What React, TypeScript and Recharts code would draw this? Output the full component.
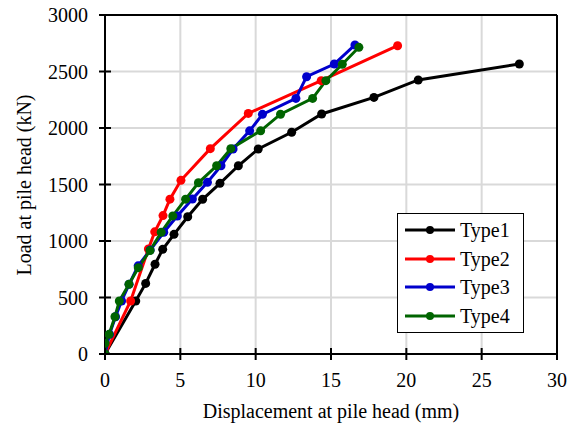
import React from 'react';
import { LineChart, Line, XAxis, YAxis, CartesianGrid, ReferenceLine } from 'recharts';

const xTicks = [0, 5, 10, 15, 20, 25, 30];
const yTicks = [0, 500, 1000, 1500, 2000, 2500, 3000];

const type1X = [0, 2.04, 2.7, 3.32, 3.83, 4.58, 5.49, 6.48, 7.63, 8.85, 10.17, 12.39, 14.38, 17.85, 20.79, 27.5];
const type1Y = [0, 469, 625, 794, 926, 1059, 1215, 1369, 1510, 1666, 1814, 1962, 2124, 2271, 2425, 2566];

const type2X = [0, 1.7, 2.88, 3.3, 3.85, 4.31, 5.04, 6.99, 9.51, 14.35, 19.42];
const type2Y = [0, 469, 929, 1081, 1225, 1370, 1537, 1817, 2129, 2419, 2728];

const type3X = [0, 0.3, 0.7, 1.1, 1.6, 2.2, 3.0, 3.9, 4.8, 5.8, 6.8, 7.7, 8.5, 9.6, 10.45, 12.67, 13.38, 15.22, 16.59];
const type3Y = [0, 174, 330, 469, 617, 780, 920, 1077, 1221, 1372, 1519, 1666, 1814, 1975, 2121, 2262, 2454, 2566, 2735];

const type4X = [0, 0, 0.27, 0.66, 0.95, 1.59, 2.21, 2.99, 3.73, 4.5, 5.35, 6.2, 7.41, 8.35, 10.33, 11.65, 13.78, 14.66, 15.75, 16.85];
const type4Y = [0, 95, 174, 330, 469, 617, 764, 916, 1077, 1222, 1370, 1515, 1666, 1817, 1975, 2122, 2262, 2419, 2564, 2714];

const seriesNames = ['Type1', 'Type2', 'Type3', 'Type4'];
const seriesColors = ['#000000', '#ff0000', '#0000cc', '#006400'];

const zip = (xs: number[], ys: number[]) => xs.map((x, i) => ({ x, y: ys[i] }));
const seriesData = [zip(type1X, type1Y), zip(type2X, type2Y), zip(type3X, type3Y), zip(type4X, type4Y)];

const FONT = '"Liberation Serif", "Times New Roman", serif';

const XTick = (props: any) => {
  const { x, y, payload } = props;
  return (
    <g>
      <line x1={x} x2={x} y1={y - 6} y2={y + 6} stroke="#000" strokeWidth={2} />
      <text x={x} y={y + 33} textAnchor="middle" fontFamily={FONT} fontSize={20} fill="#000">
        {payload.value}
      </text>
    </g>
  );
};

const YTick = (props: any) => {
  const { x, y, payload } = props;
  return (
    <g>
      <line x1={x - 6} x2={x + 6} y1={y} y2={y} stroke="#000" strokeWidth={2} />
      <text x={x - 17} y={y + 7} textAnchor="end" fontFamily={FONT} fontSize={20} fill="#000">
        {payload.value}
      </text>
    </g>
  );
};

const LegendBox = () => (
  <div
    style={{
      position: 'absolute',
      left: 397,
      top: 213,
      border: '1.5px solid #000',
      background: '#fff',
      width: 127,
      padding: '2px 0 2px 0',
      boxSizing: 'border-box',
      fontFamily: FONT,
    }}
  >
    {seriesNames.map((n, i) => (
      <div key={n} style={{ display: 'flex', alignItems: 'center', height: 28.5 }}>
        <svg width={60} height={20} style={{ display: 'block' }}>
          <line x1={7} x2={57} y1={10} y2={10} stroke={seriesColors[i]} strokeWidth={3} />
          <circle cx={32} cy={10} r={4} fill={seriesColors[i]} />
        </svg>
        <span style={{ fontSize: 20, color: '#000', marginLeft: 2, lineHeight: '20px' }}>{n}</span>
      </div>
    ))}
  </div>
);

export default function App() {
  return (
    <div style={{ position: 'absolute', left: 0, top: 0, width: 571, height: 430, background: '#fff' }}>
      <LineChart width={571} height={430} margin={{ top: 15, right: 14, bottom: 0, left: 0 }}>
        <CartesianGrid stroke="#d9d9d9" strokeWidth={2} />
        <XAxis
          type="number"
          dataKey="x"
          domain={[0, 30]}
          ticks={xTicks}
          interval={0}
          height={76}
          tickLine={false}
          tickSize={0}
          tickMargin={0}
          axisLine={{ stroke: '#000', strokeWidth: 2 }}
          tick={<XTick />}
          allowDataOverflow
          label={() => (
            <text x={331} y={418} textAnchor="middle" fontFamily={FONT} fontSize={20} fill="#000">
              Displacement at pile head (mm)
            </text>
          )}
        />
        <YAxis
          type="number"
          dataKey="y"
          domain={[0, 3000]}
          ticks={yTicks}
          interval={0}
          width={105}
          tickLine={false}
          tickSize={0}
          tickMargin={0}
          axisLine={{ stroke: '#000', strokeWidth: 2 }}
          tick={<YTick />}
          allowDataOverflow
          label={() => (
            <text
              x={24}
              y={185}
              transform="rotate(-90 24 185)"
              textAnchor="middle"
              dominantBaseline="central"
              fontFamily={FONT}
              fontSize={20}
              fill="#000"
            >
              Load at pile head (kN)
            </text>
          )}
        />
        <ReferenceLine y={3000} stroke="#000" strokeWidth={2} ifOverflow="visible" />
        <ReferenceLine x={30} stroke="#000" strokeWidth={2} ifOverflow="visible" />
        {seriesData.map((d, i) => (
          <Line
            key={seriesNames[i]}
            data={d}
            dataKey="y"
            name={seriesNames[i]}
            type="linear"
            stroke={seriesColors[i]}
            strokeWidth={3}
            dot={{ r: 4.5, fill: seriesColors[i], stroke: 'none' }}
            activeDot={false}
            isAnimationActive={false}
          />
        ))}
      </LineChart>
      <LegendBox />
    </div>
  );
}
